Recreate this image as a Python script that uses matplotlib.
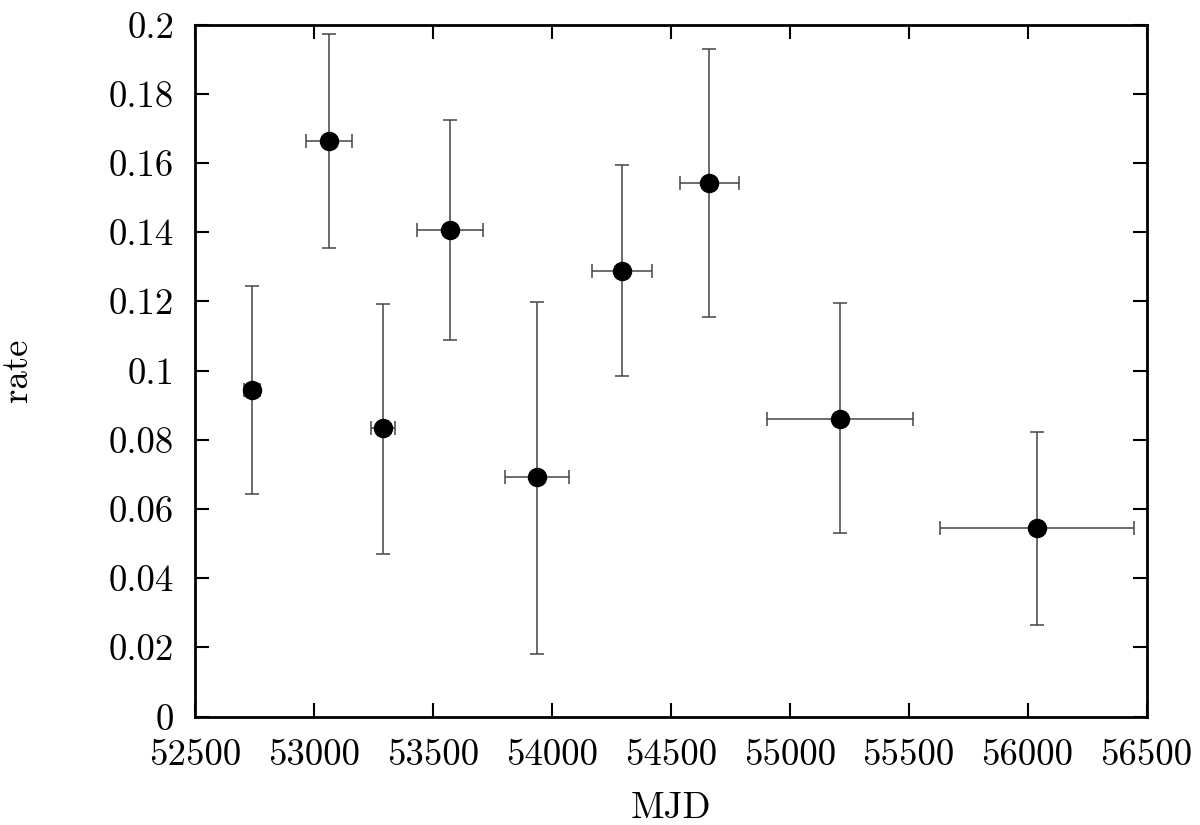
import matplotlib
matplotlib.use("Agg")
import matplotlib.pyplot as plt

mjd = [52740, 53063, 53291, 53572, 53938, 54296, 54661, 55212, 56039]
mjd_err = [35, 98, 51, 140, 135, 126, 124, 308, 409]
rate = [0.0943, 0.1663, 0.0833, 0.1406, 0.0691, 0.1287, 0.1542, 0.0861, 0.0545]
rate_hi = [0.1245, 0.1973, 0.1193, 0.1723, 0.1199, 0.1594, 0.1929, 0.1196, 0.0823]
rate_lo = [0.0642, 0.1353, 0.0471, 0.1087, 0.0182, 0.0983, 0.1154, 0.0529, 0.0265]

xticks = [52500, 53000, 53500, 54000, 54500, 55000, 55500, 56000, 56500]
yticks = [0, 0.02, 0.04, 0.06, 0.08, 0.1, 0.12, 0.14, 0.16, 0.18, 0.2]
ytick_labels = ["0", "0.02", "0.04", "0.06", "0.08", "0.1", "0.12", "0.14", "0.16", "0.18", "0.2"]

plt.rcParams['font.family'] = ['cmr10', 'DejaVu Serif']
plt.rcParams['axes.formatter.use_mathtext'] = True

fig = plt.figure(figsize=(12, 8.25), dpi=100)
ax = fig.add_axes([195/1200, 1 - 716.5/825, (1146.5-195)/1200, (716.5-24.5)/825])

yerr = [[r - l for r, l in zip(rate, rate_lo)], [h - r for h, r in zip(rate_hi, rate)]]
ax.errorbar(mjd, rate, xerr=mjd_err, yerr=yerr, fmt='o', color='black',
            ecolor='#444444', elinewidth=1.1, capsize=5, capthick=1.1,
            markersize=13, zorder=3)

ax.set_xlim(52500, 56500)
ax.set_ylim(0, 0.2)
ax.set_xticks(xticks)
ax.set_xticklabels([str(t) for t in xticks])
ax.set_yticks(yticks)
ax.set_yticklabels(ytick_labels)
ax.tick_params(direction='in', length=10, width=1.5, top=True, right=True,
               labelsize=26.5)
ax.tick_params(axis='x', pad=16)
ax.tick_params(axis='y', pad=15)
for s in ax.spines.values():
    s.set_linewidth(2)
ax.set_xlabel("MJD", fontsize=26.5, labelpad=14)
ax.set_ylabel("rate", fontsize=26.5, labelpad=54)

fig.savefig("out.png", dpi=100)
